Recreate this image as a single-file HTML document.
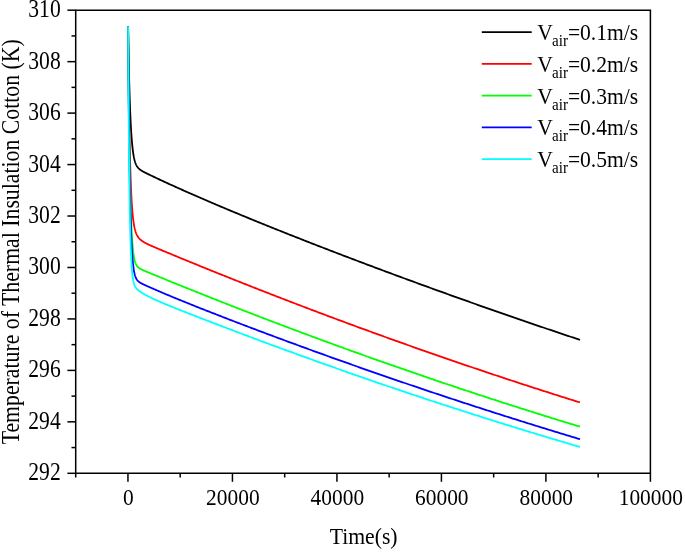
<!DOCTYPE html>
<html><head><meta charset="utf-8"><title>Temperature of Thermal Insulation Cotton</title>
<style>html,body{margin:0;padding:0;background:#fff}svg{display:block}text{font-family:"Liberation Serif","Times New Roman",serif;fill:#000}</style></head><body>
<svg width="685" height="552" viewBox="0 0 685 552">
<rect width="685" height="552" fill="#fff"/>
<path d="M128.10 26.50 L128.22 34.12 L128.35 41.32 L128.47 48.14 L128.60 54.58 L128.72 60.67 L128.85 66.43 L128.97 71.88 L129.10 77.04 L129.22 81.91 L129.35 86.52 L129.47 90.89 L129.60 95.01 L129.72 98.91 L129.85 102.61 L129.97 106.10 L130.10 109.41 L130.22 112.53 L130.35 115.49 L130.47 118.29 L130.60 120.94 L130.72 123.45 L130.85 125.83 L130.97 128.07 L131.10 130.20 L131.22 132.22 L131.35 134.12 L131.47 135.93 L131.60 137.64 L131.72 139.26 L131.85 140.80 L131.97 142.25 L132.10 143.63 L132.22 144.93 L132.35 146.17 L132.47 147.34 L132.60 148.45 L132.72 149.51 L132.85 150.51 L132.97 151.46 L133.10 152.36 L133.22 153.21 L133.35 154.02 L133.47 154.79 L133.60 155.52 L133.72 156.22 L133.85 156.88 L133.97 157.50 L134.10 158.10 L134.22 158.66 L134.35 159.20 L134.47 159.72 L134.60 160.20 L134.72 160.67 L134.85 161.11 L134.97 161.53 L135.10 161.93 L135.22 162.32 L135.35 162.68 L135.47 163.03 L135.60 163.36 L135.72 163.68 L135.85 163.99 L135.97 164.28 L136.10 164.55 L136.22 164.82 L136.35 165.08 L136.47 165.32 L136.60 165.56 L136.72 165.78 L136.85 166.00 L136.97 166.20 L137.10 166.40 L137.22 166.59 L137.35 166.78 L137.47 166.96 L137.60 167.13 L137.72 167.29 L137.85 167.45 L137.97 167.61 L138.10 167.76 L138.22 167.90 L138.35 168.04 L138.47 168.18 L138.60 168.31 L138.72 168.44 L138.85 168.56 L138.97 168.68 L139.10 168.80 L139.22 168.91 L139.35 169.02 L139.47 169.13 L139.60 169.24 L139.72 169.34 L139.85 169.44 L139.97 169.54 L140.10 169.64 L140.22 169.73 L140.35 169.83 L140.47 169.92 L140.60 170.01 L140.72 170.10 L140.85 170.18 L140.97 170.27 L141.10 170.35 L141.22 170.43 L141.35 170.51 L141.47 170.59 L141.60 170.67 L141.72 170.75 L141.85 170.83 L141.97 170.91 L142.10 170.98 L142.22 171.05 L142.35 171.13 L142.47 171.20 L142.60 171.27 L142.72 171.35 L142.85 171.42 L142.97 171.49 L143.10 171.56 L143.22 171.63 L143.35 171.70 L143.47 171.76 L143.60 171.83 L143.72 171.90 L143.85 171.97 L143.97 172.03 L144.10 172.10 L144.22 172.17 L144.35 172.23 L144.47 172.30 L144.60 172.36 L144.72 172.43 L144.85 172.49 L144.97 172.56 L145.10 172.62 L145.22 172.68 L145.35 172.75 L145.47 172.81 L145.60 172.87 L145.72 172.94 L145.85 173.00 L145.97 173.06 L146.10 173.13 L146.22 173.19 L146.35 173.25 L146.47 173.31 L146.60 173.37 L146.72 173.44 L146.85 173.50 L146.97 173.56 L147.10 173.62 L147.22 173.68 L147.35 173.74 L147.47 173.81 L147.60 173.87 L147.72 173.93 L147.85 173.99 L147.97 174.05 L148.10 174.11 L148.60 174.35 L150.04 175.05 L151.49 175.74 L152.93 176.43 L154.37 177.11 L155.81 177.79 L157.26 178.47 L158.70 179.14 L160.14 179.82 L161.59 180.49 L163.03 181.16 L164.47 181.82 L165.91 182.49 L167.36 183.15 L168.80 183.81 L170.24 184.47 L171.68 185.13 L173.13 185.78 L174.57 186.44 L176.01 187.09 L177.46 187.74 L178.90 188.39 L180.34 189.03 L181.78 189.68 L183.23 190.32 L184.67 190.96 L186.11 191.60 L187.56 192.24 L189.00 192.88 L190.44 193.52 L191.88 194.15 L193.33 194.78 L194.77 195.41 L196.21 196.04 L197.66 196.67 L199.10 197.30 L200.54 197.92 L201.98 198.55 L203.43 199.17 L204.87 199.79 L206.31 200.42 L207.76 201.03 L209.20 201.65 L210.64 202.27 L212.08 202.89 L213.53 203.50 L214.97 204.11 L216.41 204.73 L217.85 205.34 L219.30 205.95 L220.74 206.56 L222.18 207.17 L223.63 207.77 L225.07 208.38 L226.51 208.99 L227.95 209.59 L229.40 210.19 L230.84 210.80 L232.28 211.40 L233.73 212.00 L235.17 212.60 L236.61 213.20 L238.05 213.79 L239.50 214.39 L240.94 214.99 L242.38 215.58 L243.83 216.18 L245.27 216.77 L246.71 217.36 L248.15 217.95 L249.60 218.55 L251.04 219.14 L252.48 219.72 L253.93 220.31 L255.37 220.90 L256.81 221.49 L258.25 222.07 L259.70 222.66 L261.14 223.24 L262.58 223.83 L264.02 224.41 L265.47 224.99 L266.91 225.58 L268.35 226.16 L269.80 226.74 L271.24 227.32 L272.68 227.90 L274.12 228.48 L275.57 229.05 L277.01 229.63 L278.45 230.21 L279.90 230.78 L281.34 231.36 L282.78 231.93 L284.22 232.51 L285.67 233.08 L287.11 233.65 L288.55 234.22 L290.00 234.79 L291.44 235.37 L292.88 235.94 L294.32 236.51 L295.77 237.07 L297.21 237.64 L298.65 238.21 L300.09 238.78 L301.54 239.34 L302.98 239.91 L304.42 240.47 L305.87 241.04 L307.31 241.60 L308.75 242.17 L310.19 242.73 L311.64 243.29 L313.08 243.86 L314.52 244.42 L315.97 244.98 L317.41 245.54 L318.85 246.10 L320.29 246.66 L321.74 247.22 L323.18 247.77 L324.62 248.33 L326.07 248.89 L327.51 249.45 L328.95 250.00 L330.39 250.56 L331.84 251.11 L333.28 251.67 L334.72 252.22 L336.17 252.77 L337.61 253.33 L339.05 253.88 L340.49 254.43 L341.94 254.98 L343.38 255.54 L344.82 256.09 L346.26 256.64 L347.71 257.19 L349.15 257.73 L350.59 258.28 L352.04 258.83 L353.48 259.38 L354.92 259.93 L356.36 260.47 L357.81 261.02 L359.25 261.56 L360.69 262.11 L362.14 262.65 L363.58 263.20 L365.02 263.74 L366.46 264.29 L367.91 264.83 L369.35 265.37 L370.79 265.91 L372.24 266.45 L373.68 267.00 L375.12 267.54 L376.56 268.08 L378.01 268.62 L379.45 269.15 L380.89 269.69 L382.34 270.23 L383.78 270.77 L385.22 271.31 L386.66 271.84 L388.11 272.38 L389.55 272.92 L390.99 273.45 L392.43 273.99 L393.88 274.52 L395.32 275.05 L396.76 275.59 L398.21 276.12 L399.65 276.65 L401.09 277.19 L402.53 277.72 L403.98 278.25 L405.42 278.78 L406.86 279.31 L408.31 279.84 L409.75 280.37 L411.19 280.90 L412.63 281.43 L414.08 281.96 L415.52 282.49 L416.96 283.01 L418.41 283.54 L419.85 284.07 L421.29 284.59 L422.73 285.12 L424.18 285.64 L425.62 286.17 L427.06 286.69 L428.51 287.22 L429.95 287.74 L431.39 288.26 L432.83 288.79 L434.28 289.31 L435.72 289.83 L437.16 290.35 L438.60 290.87 L440.05 291.39 L441.49 291.91 L442.93 292.43 L444.38 292.95 L445.82 293.47 L447.26 293.99 L448.70 294.51 L450.15 295.03 L451.59 295.54 L453.03 296.06 L454.48 296.58 L455.92 297.09 L457.36 297.61 L458.80 298.12 L460.25 298.64 L461.69 299.15 L463.13 299.66 L464.58 300.18 L466.02 300.69 L467.46 301.20 L468.90 301.72 L470.35 302.23 L471.79 302.74 L473.23 303.25 L474.67 303.76 L476.12 304.27 L477.56 304.78 L479.00 305.29 L480.45 305.80 L481.89 306.30 L483.33 306.81 L484.77 307.32 L486.22 307.83 L487.66 308.33 L489.10 308.84 L490.55 309.34 L491.99 309.85 L493.43 310.35 L494.87 310.86 L496.32 311.36 L497.76 311.87 L499.20 312.37 L500.65 312.87 L502.09 313.37 L503.53 313.88 L504.97 314.38 L506.42 314.88 L507.86 315.38 L509.30 315.88 L510.75 316.38 L512.19 316.88 L513.63 317.38 L515.07 317.88 L516.52 318.37 L517.96 318.87 L519.40 319.37 L520.84 319.87 L522.29 320.36 L523.73 320.86 L525.17 321.35 L526.62 321.85 L528.06 322.34 L529.50 322.84 L530.94 323.33 L532.39 323.83 L533.83 324.32 L535.27 324.81 L536.72 325.30 L538.16 325.80 L539.60 326.29 L541.04 326.78 L542.49 327.27 L543.93 327.76 L545.37 328.25 L546.82 328.74 L548.26 329.23 L549.70 329.71 L551.14 330.20 L552.59 330.69 L554.03 331.18 L555.47 331.66 L556.92 332.15 L558.36 332.64 L559.80 333.12 L561.24 333.61 L562.69 334.09 L564.13 334.58 L565.57 335.06 L567.01 335.54 L568.46 336.03 L569.90 336.51 L571.34 336.99 L572.79 337.47 L574.23 337.96 L575.67 338.44 L577.11 338.92 L578.56 339.40 L580.00 339.88" fill="none" stroke="#000" stroke-width="1.8" stroke-linejoin="round"/>
<path d="M128.10 26.50 L128.22 39.84 L128.35 52.30 L128.47 63.92 L128.60 74.78 L128.72 84.92 L128.85 94.39 L128.97 103.24 L129.10 111.51 L129.22 119.24 L129.35 126.47 L129.47 133.22 L129.60 139.54 L129.72 145.45 L129.85 150.97 L129.97 156.15 L130.10 160.99 L130.22 165.53 L130.35 169.77 L130.47 173.75 L130.60 177.48 L130.72 180.97 L130.85 184.25 L130.97 187.32 L131.10 190.20 L131.22 192.91 L131.35 195.45 L131.47 197.84 L131.60 200.08 L131.72 202.18 L131.85 204.16 L131.97 206.03 L132.10 207.78 L132.22 209.43 L132.35 210.98 L132.47 212.45 L132.60 213.83 L132.72 215.13 L132.85 216.36 L132.97 217.52 L133.10 218.61 L133.22 219.64 L133.35 220.62 L133.47 221.55 L133.60 222.42 L133.72 223.25 L133.85 224.04 L133.97 224.78 L134.10 225.49 L134.22 226.16 L134.35 226.79 L134.47 227.40 L134.60 227.97 L134.72 228.52 L134.85 229.04 L134.97 229.54 L135.10 230.01 L135.22 230.46 L135.35 230.89 L135.47 231.30 L135.60 231.70 L135.72 232.07 L135.85 232.43 L135.97 232.78 L136.10 233.11 L136.22 233.43 L136.35 233.73 L136.47 234.02 L136.60 234.30 L136.72 234.57 L136.85 234.83 L136.97 235.08 L137.10 235.32 L137.22 235.56 L137.35 235.78 L137.47 236.00 L137.60 236.21 L137.72 236.41 L137.85 236.61 L137.97 236.80 L138.10 236.98 L138.22 237.16 L138.35 237.33 L138.47 237.50 L138.60 237.66 L138.72 237.82 L138.85 237.97 L138.97 238.12 L139.10 238.27 L139.22 238.41 L139.35 238.55 L139.47 238.69 L139.60 238.82 L139.72 238.95 L139.85 239.07 L139.97 239.20 L140.10 239.32 L140.22 239.43 L140.35 239.55 L140.47 239.66 L140.60 239.77 L140.72 239.88 L140.85 239.99 L140.97 240.09 L141.10 240.19 L141.22 240.30 L141.35 240.39 L141.47 240.49 L141.60 240.59 L141.72 240.68 L141.85 240.77 L141.97 240.87 L142.10 240.96 L142.22 241.04 L142.35 241.13 L142.47 241.22 L142.60 241.30 L142.72 241.39 L142.85 241.47 L142.97 241.55 L143.10 241.63 L143.22 241.71 L143.35 241.79 L143.47 241.87 L143.60 241.94 L143.72 242.02 L143.85 242.10 L143.97 242.17 L144.10 242.24 L144.22 242.32 L144.35 242.39 L144.47 242.46 L144.60 242.53 L144.72 242.60 L144.85 242.67 L144.97 242.74 L145.10 242.81 L145.22 242.88 L145.35 242.95 L145.47 243.02 L145.60 243.08 L145.72 243.15 L145.85 243.22 L145.97 243.28 L146.10 243.35 L146.22 243.41 L146.35 243.47 L146.47 243.54 L146.60 243.60 L146.72 243.66 L146.85 243.73 L146.97 243.79 L147.10 243.85 L147.22 243.91 L147.35 243.98 L147.47 244.04 L147.60 244.10 L147.72 244.16 L147.85 244.22 L147.97 244.28 L148.10 244.34 L148.60 244.58 L150.04 245.24 L151.49 245.89 L152.93 246.52 L154.37 247.15 L155.81 247.76 L157.26 248.38 L158.70 248.98 L160.14 249.59 L161.59 250.19 L163.03 250.80 L164.47 251.40 L165.91 252.00 L167.36 252.60 L168.80 253.19 L170.24 253.79 L171.68 254.39 L173.13 254.98 L174.57 255.58 L176.01 256.18 L177.46 256.77 L178.90 257.36 L180.34 257.96 L181.78 258.55 L183.23 259.14 L184.67 259.74 L186.11 260.33 L187.56 260.92 L189.00 261.51 L190.44 262.10 L191.88 262.69 L193.33 263.28 L194.77 263.87 L196.21 264.45 L197.66 265.04 L199.10 265.63 L200.54 266.21 L201.98 266.80 L203.43 267.39 L204.87 267.97 L206.31 268.55 L207.76 269.14 L209.20 269.72 L210.64 270.30 L212.08 270.89 L213.53 271.47 L214.97 272.05 L216.41 272.63 L217.85 273.21 L219.30 273.79 L220.74 274.37 L222.18 274.95 L223.63 275.53 L225.07 276.10 L226.51 276.68 L227.95 277.26 L229.40 277.83 L230.84 278.41 L232.28 278.98 L233.73 279.56 L235.17 280.13 L236.61 280.71 L238.05 281.28 L239.50 281.85 L240.94 282.42 L242.38 282.99 L243.83 283.56 L245.27 284.13 L246.71 284.70 L248.15 285.27 L249.60 285.84 L251.04 286.41 L252.48 286.98 L253.93 287.55 L255.37 288.11 L256.81 288.68 L258.25 289.24 L259.70 289.81 L261.14 290.37 L262.58 290.94 L264.02 291.50 L265.47 292.07 L266.91 292.63 L268.35 293.19 L269.80 293.75 L271.24 294.31 L272.68 294.87 L274.12 295.43 L275.57 295.99 L277.01 296.55 L278.45 297.11 L279.90 297.67 L281.34 298.22 L282.78 298.78 L284.22 299.34 L285.67 299.89 L287.11 300.45 L288.55 301.00 L290.00 301.56 L291.44 302.11 L292.88 302.67 L294.32 303.22 L295.77 303.77 L297.21 304.32 L298.65 304.87 L300.09 305.42 L301.54 305.97 L302.98 306.52 L304.42 307.07 L305.87 307.62 L307.31 308.17 L308.75 308.72 L310.19 309.26 L311.64 309.81 L313.08 310.36 L314.52 310.90 L315.97 311.45 L317.41 311.99 L318.85 312.54 L320.29 313.08 L321.74 313.62 L323.18 314.16 L324.62 314.71 L326.07 315.25 L327.51 315.79 L328.95 316.33 L330.39 316.87 L331.84 317.41 L333.28 317.95 L334.72 318.48 L336.17 319.02 L337.61 319.56 L339.05 320.10 L340.49 320.63 L341.94 321.17 L343.38 321.70 L344.82 322.24 L346.26 322.77 L347.71 323.31 L349.15 323.84 L350.59 324.37 L352.04 324.90 L353.48 325.43 L354.92 325.97 L356.36 326.50 L357.81 327.03 L359.25 327.56 L360.69 328.08 L362.14 328.61 L363.58 329.14 L365.02 329.67 L366.46 330.19 L367.91 330.72 L369.35 331.25 L370.79 331.77 L372.24 332.30 L373.68 332.82 L375.12 333.34 L376.56 333.87 L378.01 334.39 L379.45 334.91 L380.89 335.43 L382.34 335.96 L383.78 336.48 L385.22 337.00 L386.66 337.52 L388.11 338.04 L389.55 338.55 L390.99 339.07 L392.43 339.59 L393.88 340.11 L395.32 340.62 L396.76 341.14 L398.21 341.65 L399.65 342.17 L401.09 342.68 L402.53 343.20 L403.98 343.71 L405.42 344.22 L406.86 344.74 L408.31 345.25 L409.75 345.76 L411.19 346.27 L412.63 346.78 L414.08 347.29 L415.52 347.80 L416.96 348.31 L418.41 348.82 L419.85 349.32 L421.29 349.83 L422.73 350.34 L424.18 350.84 L425.62 351.35 L427.06 351.86 L428.51 352.36 L429.95 352.86 L431.39 353.37 L432.83 353.87 L434.28 354.37 L435.72 354.88 L437.16 355.38 L438.60 355.88 L440.05 356.38 L441.49 356.88 L442.93 357.38 L444.38 357.88 L445.82 358.37 L447.26 358.87 L448.70 359.37 L450.15 359.87 L451.59 360.36 L453.03 360.86 L454.48 361.35 L455.92 361.85 L457.36 362.34 L458.80 362.84 L460.25 363.33 L461.69 363.82 L463.13 364.32 L464.58 364.81 L466.02 365.30 L467.46 365.79 L468.90 366.28 L470.35 366.77 L471.79 367.26 L473.23 367.75 L474.67 368.23 L476.12 368.72 L477.56 369.21 L479.00 369.70 L480.45 370.18 L481.89 370.67 L483.33 371.15 L484.77 371.64 L486.22 372.12 L487.66 372.60 L489.10 373.09 L490.55 373.57 L491.99 374.05 L493.43 374.53 L494.87 375.01 L496.32 375.49 L497.76 375.97 L499.20 376.45 L500.65 376.93 L502.09 377.41 L503.53 377.89 L504.97 378.36 L506.42 378.84 L507.86 379.32 L509.30 379.79 L510.75 380.27 L512.19 380.74 L513.63 381.22 L515.07 381.69 L516.52 382.16 L517.96 382.64 L519.40 383.11 L520.84 383.58 L522.29 384.05 L523.73 384.52 L525.17 384.99 L526.62 385.46 L528.06 385.93 L529.50 386.40 L530.94 386.86 L532.39 387.33 L533.83 387.80 L535.27 388.27 L536.72 388.73 L538.16 389.20 L539.60 389.66 L541.04 390.13 L542.49 390.59 L543.93 391.05 L545.37 391.51 L546.82 391.98 L548.26 392.44 L549.70 392.90 L551.14 393.36 L552.59 393.82 L554.03 394.28 L555.47 394.74 L556.92 395.20 L558.36 395.66 L559.80 396.11 L561.24 396.57 L562.69 397.03 L564.13 397.48 L565.57 397.94 L567.01 398.39 L568.46 398.85 L569.90 399.30 L571.34 399.75 L572.79 400.21 L574.23 400.66 L575.67 401.11 L577.11 401.56 L578.56 402.01 L580.00 402.46" fill="none" stroke="#f00" stroke-width="1.8" stroke-linejoin="round"/>
<path d="M128.10 26.50 L128.22 42.29 L128.35 57.03 L128.47 70.80 L128.60 83.66 L128.72 95.68 L128.85 106.90 L128.97 117.38 L129.10 127.17 L129.22 136.31 L129.35 144.86 L129.47 152.84 L129.60 160.29 L129.72 167.26 L129.85 173.77 L129.97 179.85 L130.10 185.53 L130.22 190.83 L130.35 195.79 L130.47 200.43 L130.60 204.76 L130.72 208.80 L130.85 212.59 L130.97 216.12 L131.10 219.43 L131.22 222.52 L131.35 225.41 L131.47 228.11 L131.60 230.63 L131.72 232.99 L131.85 235.20 L131.97 237.27 L132.10 239.20 L132.22 241.00 L132.35 242.70 L132.47 244.28 L132.60 245.76 L132.72 247.15 L132.85 248.44 L132.97 249.66 L133.10 250.80 L133.22 251.86 L133.35 252.86 L133.47 253.80 L133.60 254.68 L133.72 255.50 L133.85 256.27 L133.97 257.00 L134.10 257.68 L134.22 258.32 L134.35 258.92 L134.47 259.48 L134.60 260.01 L134.72 260.51 L134.85 260.97 L134.97 261.41 L135.10 261.83 L135.22 262.22 L135.35 262.59 L135.47 262.94 L135.60 263.26 L135.72 263.57 L135.85 263.87 L135.97 264.14 L136.10 264.40 L136.22 264.65 L136.35 264.89 L136.47 265.11 L136.60 265.32 L136.72 265.52 L136.85 265.71 L136.97 265.89 L137.10 266.07 L137.22 266.23 L137.35 266.39 L137.47 266.54 L137.60 266.68 L137.72 266.82 L137.85 266.95 L137.97 267.08 L138.10 267.20 L138.22 267.32 L138.35 267.43 L138.47 267.54 L138.60 267.65 L138.72 267.75 L138.85 267.85 L138.97 267.94 L139.10 268.03 L139.22 268.12 L139.35 268.21 L139.47 268.29 L139.60 268.38 L139.72 268.46 L139.85 268.54 L139.97 268.61 L140.10 268.69 L140.22 268.76 L140.35 268.83 L140.47 268.90 L140.60 268.97 L140.72 269.04 L140.85 269.11 L140.97 269.18 L141.10 269.24 L141.22 269.31 L141.35 269.37 L141.47 269.43 L141.60 269.49 L141.72 269.56 L141.85 269.62 L141.97 269.68 L142.10 269.74 L142.22 269.79 L142.35 269.85 L142.47 269.91 L142.60 269.97 L142.72 270.03 L142.85 270.08 L142.97 270.14 L143.10 270.20 L143.22 270.25 L143.35 270.31 L143.47 270.36 L143.60 270.42 L143.72 270.47 L143.85 270.53 L143.97 270.58 L144.10 270.64 L144.22 270.69 L144.35 270.74 L144.47 270.80 L144.60 270.85 L144.72 270.90 L144.85 270.96 L144.97 271.01 L145.10 271.06 L145.22 271.12 L145.35 271.17 L145.47 271.22 L145.60 271.28 L145.72 271.33 L145.85 271.38 L145.97 271.43 L146.10 271.49 L146.22 271.54 L146.35 271.59 L146.47 271.64 L146.60 271.69 L146.72 271.75 L146.85 271.80 L146.97 271.85 L147.10 271.90 L147.22 271.96 L147.35 272.01 L147.47 272.06 L147.60 272.11 L147.72 272.16 L147.85 272.21 L147.97 272.27 L148.10 272.32 L148.60 272.53 L150.04 273.12 L151.49 273.72 L152.93 274.31 L154.37 274.90 L155.81 275.49 L157.26 276.08 L158.70 276.68 L160.14 277.27 L161.59 277.86 L163.03 278.44 L164.47 279.03 L165.91 279.62 L167.36 280.21 L168.80 280.80 L170.24 281.38 L171.68 281.97 L173.13 282.55 L174.57 283.14 L176.01 283.72 L177.46 284.31 L178.90 284.89 L180.34 285.47 L181.78 286.06 L183.23 286.64 L184.67 287.22 L186.11 287.80 L187.56 288.38 L189.00 288.96 L190.44 289.54 L191.88 290.12 L193.33 290.70 L194.77 291.28 L196.21 291.85 L197.66 292.43 L199.10 293.01 L200.54 293.58 L201.98 294.16 L203.43 294.73 L204.87 295.30 L206.31 295.88 L207.76 296.45 L209.20 297.02 L210.64 297.60 L212.08 298.17 L213.53 298.74 L214.97 299.31 L216.41 299.88 L217.85 300.45 L219.30 301.02 L220.74 301.58 L222.18 302.15 L223.63 302.72 L225.07 303.28 L226.51 303.85 L227.95 304.42 L229.40 304.98 L230.84 305.55 L232.28 306.11 L233.73 306.67 L235.17 307.24 L236.61 307.80 L238.05 308.36 L239.50 308.92 L240.94 309.48 L242.38 310.04 L243.83 310.60 L245.27 311.16 L246.71 311.72 L248.15 312.28 L249.60 312.84 L251.04 313.39 L252.48 313.95 L253.93 314.51 L255.37 315.06 L256.81 315.62 L258.25 316.17 L259.70 316.73 L261.14 317.28 L262.58 317.83 L264.02 318.38 L265.47 318.94 L266.91 319.49 L268.35 320.04 L269.80 320.59 L271.24 321.14 L272.68 321.69 L274.12 322.24 L275.57 322.78 L277.01 323.33 L278.45 323.88 L279.90 324.43 L281.34 324.97 L282.78 325.52 L284.22 326.06 L285.67 326.61 L287.11 327.15 L288.55 327.69 L290.00 328.24 L291.44 328.78 L292.88 329.32 L294.32 329.86 L295.77 330.40 L297.21 330.94 L298.65 331.48 L300.09 332.02 L301.54 332.56 L302.98 333.10 L304.42 333.64 L305.87 334.17 L307.31 334.71 L308.75 335.25 L310.19 335.78 L311.64 336.32 L313.08 336.85 L314.52 337.39 L315.97 337.92 L317.41 338.45 L318.85 338.98 L320.29 339.52 L321.74 340.05 L323.18 340.58 L324.62 341.11 L326.07 341.64 L327.51 342.17 L328.95 342.70 L330.39 343.22 L331.84 343.75 L333.28 344.28 L334.72 344.81 L336.17 345.33 L337.61 345.86 L339.05 346.38 L340.49 346.91 L341.94 347.43 L343.38 347.95 L344.82 348.48 L346.26 349.00 L347.71 349.52 L349.15 350.04 L350.59 350.56 L352.04 351.08 L353.48 351.60 L354.92 352.12 L356.36 352.64 L357.81 353.16 L359.25 353.68 L360.69 354.19 L362.14 354.71 L363.58 355.23 L365.02 355.74 L366.46 356.26 L367.91 356.77 L369.35 357.28 L370.79 357.80 L372.24 358.31 L373.68 358.82 L375.12 359.33 L376.56 359.85 L378.01 360.36 L379.45 360.87 L380.89 361.38 L382.34 361.89 L383.78 362.39 L385.22 362.90 L386.66 363.41 L388.11 363.92 L389.55 364.42 L390.99 364.93 L392.43 365.44 L393.88 365.94 L395.32 366.44 L396.76 366.95 L398.21 367.45 L399.65 367.95 L401.09 368.46 L402.53 368.96 L403.98 369.46 L405.42 369.96 L406.86 370.46 L408.31 370.96 L409.75 371.46 L411.19 371.96 L412.63 372.46 L414.08 372.95 L415.52 373.45 L416.96 373.95 L418.41 374.44 L419.85 374.94 L421.29 375.43 L422.73 375.93 L424.18 376.42 L425.62 376.92 L427.06 377.41 L428.51 377.90 L429.95 378.39 L431.39 378.88 L432.83 379.37 L434.28 379.86 L435.72 380.35 L437.16 380.84 L438.60 381.33 L440.05 381.82 L441.49 382.31 L442.93 382.79 L444.38 383.28 L445.82 383.77 L447.26 384.25 L448.70 384.74 L450.15 385.22 L451.59 385.71 L453.03 386.19 L454.48 386.67 L455.92 387.15 L457.36 387.64 L458.80 388.12 L460.25 388.60 L461.69 389.08 L463.13 389.56 L464.58 390.04 L466.02 390.52 L467.46 390.99 L468.90 391.47 L470.35 391.95 L471.79 392.42 L473.23 392.90 L474.67 393.38 L476.12 393.85 L477.56 394.33 L479.00 394.80 L480.45 395.27 L481.89 395.75 L483.33 396.22 L484.77 396.69 L486.22 397.16 L487.66 397.63 L489.10 398.10 L490.55 398.57 L491.99 399.04 L493.43 399.51 L494.87 399.98 L496.32 400.44 L497.76 400.91 L499.20 401.38 L500.65 401.84 L502.09 402.31 L503.53 402.77 L504.97 403.24 L506.42 403.70 L507.86 404.17 L509.30 404.63 L510.75 405.09 L512.19 405.55 L513.63 406.01 L515.07 406.47 L516.52 406.93 L517.96 407.39 L519.40 407.85 L520.84 408.31 L522.29 408.77 L523.73 409.23 L525.17 409.68 L526.62 410.14 L528.06 410.60 L529.50 411.05 L530.94 411.51 L532.39 411.96 L533.83 412.41 L535.27 412.87 L536.72 413.32 L538.16 413.77 L539.60 414.22 L541.04 414.68 L542.49 415.13 L543.93 415.58 L545.37 416.03 L546.82 416.48 L548.26 416.92 L549.70 417.37 L551.14 417.82 L552.59 418.27 L554.03 418.71 L555.47 419.16 L556.92 419.60 L558.36 420.05 L559.80 420.49 L561.24 420.94 L562.69 421.38 L564.13 421.82 L565.57 422.27 L567.01 422.71 L568.46 423.15 L569.90 423.59 L571.34 424.03 L572.79 424.47 L574.23 424.91 L575.67 425.35 L577.11 425.78 L578.56 426.22 L580.00 426.66" fill="none" stroke="#0f0" stroke-width="1.8" stroke-linejoin="round"/>
<path d="M128.10 26.50 L128.22 43.52 L128.35 59.40 L128.47 74.20 L128.60 88.01 L128.72 100.89 L128.85 112.90 L128.97 124.10 L129.10 134.55 L129.22 144.30 L129.35 153.39 L129.47 161.87 L129.60 169.78 L129.72 177.16 L129.85 184.05 L129.97 190.47 L130.10 196.46 L130.22 202.06 L130.35 207.27 L130.47 212.14 L130.60 216.69 L130.72 220.93 L130.85 224.88 L130.97 228.58 L131.10 232.03 L131.22 235.25 L131.35 238.25 L131.47 241.06 L131.60 243.68 L131.72 246.13 L131.85 248.41 L131.97 250.55 L132.10 252.54 L132.22 254.40 L132.35 256.15 L132.47 257.77 L132.60 259.30 L132.72 260.72 L132.85 262.05 L132.97 263.29 L133.10 264.46 L133.22 265.55 L133.35 266.57 L133.47 267.52 L133.60 268.42 L133.72 269.25 L133.85 270.04 L133.97 270.77 L134.10 271.46 L134.22 272.11 L134.35 272.72 L134.47 273.29 L134.60 273.82 L134.72 274.33 L134.85 274.80 L134.97 275.25 L135.10 275.66 L135.22 276.06 L135.35 276.43 L135.47 276.78 L135.60 277.11 L135.72 277.42 L135.85 277.72 L135.97 278.00 L136.10 278.26 L136.22 278.51 L136.35 278.75 L136.47 278.97 L136.60 279.19 L136.72 279.39 L136.85 279.58 L136.97 279.77 L137.10 279.94 L137.22 280.11 L137.35 280.27 L137.47 280.42 L137.60 280.57 L137.72 280.71 L137.85 280.85 L137.97 280.98 L138.10 281.10 L138.22 281.22 L138.35 281.34 L138.47 281.45 L138.60 281.56 L138.72 281.66 L138.85 281.76 L138.97 281.86 L139.10 281.96 L139.22 282.05 L139.35 282.14 L139.47 282.23 L139.60 282.32 L139.72 282.40 L139.85 282.48 L139.97 282.56 L140.10 282.64 L140.22 282.72 L140.35 282.80 L140.47 282.87 L140.60 282.94 L140.72 283.02 L140.85 283.09 L140.97 283.16 L141.10 283.23 L141.22 283.30 L141.35 283.36 L141.47 283.43 L141.60 283.50 L141.72 283.56 L141.85 283.63 L141.97 283.69 L142.10 283.75 L142.22 283.82 L142.35 283.88 L142.47 283.94 L142.60 284.00 L142.72 284.07 L142.85 284.13 L142.97 284.19 L143.10 284.25 L143.22 284.31 L143.35 284.37 L143.47 284.43 L143.60 284.49 L143.72 284.55 L143.85 284.61 L143.97 284.66 L144.10 284.72 L144.22 284.78 L144.35 284.84 L144.47 284.90 L144.60 284.95 L144.72 285.01 L144.85 285.07 L144.97 285.13 L145.10 285.18 L145.22 285.24 L145.35 285.30 L145.47 285.36 L145.60 285.41 L145.72 285.47 L145.85 285.53 L145.97 285.58 L146.10 285.64 L146.22 285.70 L146.35 285.75 L146.47 285.81 L146.60 285.86 L146.72 285.92 L146.85 285.98 L146.97 286.03 L147.10 286.09 L147.22 286.14 L147.35 286.20 L147.47 286.26 L147.60 286.31 L147.72 286.37 L147.85 286.42 L147.97 286.48 L148.10 286.53 L148.60 286.76 L150.04 287.39 L151.49 288.03 L152.93 288.66 L154.37 289.28 L155.81 289.91 L157.26 290.53 L158.70 291.15 L160.14 291.76 L161.59 292.38 L163.03 292.99 L164.47 293.60 L165.91 294.21 L167.36 294.81 L168.80 295.41 L170.24 296.02 L171.68 296.61 L173.13 297.21 L174.57 297.81 L176.01 298.40 L177.46 298.99 L178.90 299.59 L180.34 300.18 L181.78 300.76 L183.23 301.35 L184.67 301.94 L186.11 302.52 L187.56 303.10 L189.00 303.68 L190.44 304.26 L191.88 304.84 L193.33 305.42 L194.77 306.00 L196.21 306.57 L197.66 307.15 L199.10 307.72 L200.54 308.29 L201.98 308.86 L203.43 309.43 L204.87 310.00 L206.31 310.57 L207.76 311.14 L209.20 311.71 L210.64 312.27 L212.08 312.84 L213.53 313.40 L214.97 313.96 L216.41 314.53 L217.85 315.09 L219.30 315.65 L220.74 316.21 L222.18 316.77 L223.63 317.33 L225.07 317.89 L226.51 318.44 L227.95 319.00 L229.40 319.55 L230.84 320.11 L232.28 320.66 L233.73 321.22 L235.17 321.77 L236.61 322.32 L238.05 322.88 L239.50 323.43 L240.94 323.98 L242.38 324.53 L243.83 325.08 L245.27 325.63 L246.71 326.17 L248.15 326.72 L249.60 327.27 L251.04 327.81 L252.48 328.36 L253.93 328.90 L255.37 329.45 L256.81 329.99 L258.25 330.54 L259.70 331.08 L261.14 331.62 L262.58 332.16 L264.02 332.70 L265.47 333.25 L266.91 333.79 L268.35 334.32 L269.80 334.86 L271.24 335.40 L272.68 335.94 L274.12 336.48 L275.57 337.01 L277.01 337.55 L278.45 338.09 L279.90 338.62 L281.34 339.16 L282.78 339.69 L284.22 340.22 L285.67 340.76 L287.11 341.29 L288.55 341.82 L290.00 342.35 L291.44 342.88 L292.88 343.41 L294.32 343.94 L295.77 344.47 L297.21 345.00 L298.65 345.53 L300.09 346.06 L301.54 346.59 L302.98 347.11 L304.42 347.64 L305.87 348.17 L307.31 348.69 L308.75 349.22 L310.19 349.74 L311.64 350.27 L313.08 350.79 L314.52 351.31 L315.97 351.83 L317.41 352.36 L318.85 352.88 L320.29 353.40 L321.74 353.92 L323.18 354.44 L324.62 354.96 L326.07 355.48 L327.51 356.00 L328.95 356.51 L330.39 357.03 L331.84 357.55 L333.28 358.06 L334.72 358.58 L336.17 359.10 L337.61 359.61 L339.05 360.13 L340.49 360.64 L341.94 361.15 L343.38 361.67 L344.82 362.18 L346.26 362.69 L347.71 363.20 L349.15 363.71 L350.59 364.22 L352.04 364.73 L353.48 365.24 L354.92 365.75 L356.36 366.26 L357.81 366.77 L359.25 367.28 L360.69 367.78 L362.14 368.29 L363.58 368.80 L365.02 369.30 L366.46 369.81 L367.91 370.31 L369.35 370.82 L370.79 371.32 L372.24 371.82 L373.68 372.33 L375.12 372.83 L376.56 373.33 L378.01 373.83 L379.45 374.33 L380.89 374.83 L382.34 375.33 L383.78 375.83 L385.22 376.33 L386.66 376.83 L388.11 377.33 L389.55 377.83 L390.99 378.32 L392.43 378.82 L393.88 379.31 L395.32 379.81 L396.76 380.30 L398.21 380.80 L399.65 381.29 L401.09 381.79 L402.53 382.28 L403.98 382.77 L405.42 383.26 L406.86 383.76 L408.31 384.25 L409.75 384.74 L411.19 385.23 L412.63 385.72 L414.08 386.21 L415.52 386.69 L416.96 387.18 L418.41 387.67 L419.85 388.16 L421.29 388.64 L422.73 389.13 L424.18 389.62 L425.62 390.10 L427.06 390.59 L428.51 391.07 L429.95 391.55 L431.39 392.04 L432.83 392.52 L434.28 393.00 L435.72 393.48 L437.16 393.97 L438.60 394.45 L440.05 394.93 L441.49 395.41 L442.93 395.89 L444.38 396.36 L445.82 396.84 L447.26 397.32 L448.70 397.80 L450.15 398.27 L451.59 398.75 L453.03 399.23 L454.48 399.70 L455.92 400.18 L457.36 400.65 L458.80 401.13 L460.25 401.60 L461.69 402.07 L463.13 402.55 L464.58 403.02 L466.02 403.49 L467.46 403.96 L468.90 404.43 L470.35 404.90 L471.79 405.37 L473.23 405.84 L474.67 406.31 L476.12 406.78 L477.56 407.24 L479.00 407.71 L480.45 408.18 L481.89 408.64 L483.33 409.11 L484.77 409.57 L486.22 410.04 L487.66 410.50 L489.10 410.97 L490.55 411.43 L491.99 411.89 L493.43 412.36 L494.87 412.82 L496.32 413.28 L497.76 413.74 L499.20 414.20 L500.65 414.66 L502.09 415.12 L503.53 415.58 L504.97 416.04 L506.42 416.49 L507.86 416.95 L509.30 417.41 L510.75 417.87 L512.19 418.32 L513.63 418.78 L515.07 419.23 L516.52 419.69 L517.96 420.14 L519.40 420.59 L520.84 421.05 L522.29 421.50 L523.73 421.95 L525.17 422.40 L526.62 422.85 L528.06 423.30 L529.50 423.76 L530.94 424.20 L532.39 424.65 L533.83 425.10 L535.27 425.55 L536.72 426.00 L538.16 426.45 L539.60 426.89 L541.04 427.34 L542.49 427.78 L543.93 428.23 L545.37 428.67 L546.82 429.12 L548.26 429.56 L549.70 430.01 L551.14 430.45 L552.59 430.89 L554.03 431.33 L555.47 431.77 L556.92 432.21 L558.36 432.66 L559.80 433.10 L561.24 433.53 L562.69 433.97 L564.13 434.41 L565.57 434.85 L567.01 435.29 L568.46 435.72 L569.90 436.16 L571.34 436.60 L572.79 437.03 L574.23 437.47 L575.67 437.90 L577.11 438.34 L578.56 438.77 L580.00 439.20" fill="none" stroke="#00f" stroke-width="1.8" stroke-linejoin="round"/>
<path d="M128.10 26.50 L128.22 49.07 L128.35 69.66 L128.47 88.45 L128.60 105.59 L128.72 121.24 L128.85 135.51 L128.97 148.54 L129.10 160.44 L129.22 171.29 L129.35 181.20 L129.47 190.25 L129.60 198.51 L129.72 206.06 L129.85 212.95 L129.97 219.24 L130.10 224.99 L130.22 230.25 L130.35 235.05 L130.47 239.44 L130.60 243.46 L130.72 247.13 L130.85 250.49 L130.97 253.56 L131.10 256.38 L131.22 258.95 L131.35 261.31 L131.47 263.47 L131.60 265.46 L131.72 267.27 L131.85 268.94 L131.97 270.47 L132.10 271.88 L132.22 273.17 L132.35 274.36 L132.47 275.45 L132.60 276.46 L132.72 277.39 L132.85 278.25 L132.97 279.04 L133.10 279.77 L133.22 280.44 L133.35 281.07 L133.47 281.65 L133.60 282.19 L133.72 282.69 L133.85 283.16 L133.97 283.59 L134.10 283.99 L134.22 284.37 L134.35 284.73 L134.47 285.06 L134.60 285.37 L134.72 285.66 L134.85 285.94 L134.97 286.20 L135.10 286.44 L135.22 286.68 L135.35 286.90 L135.47 287.11 L135.60 287.31 L135.72 287.50 L135.85 287.68 L135.97 287.86 L136.10 288.03 L136.22 288.19 L136.35 288.34 L136.47 288.49 L136.60 288.64 L136.72 288.78 L136.85 288.91 L136.97 289.04 L137.10 289.17 L137.22 289.30 L137.35 289.42 L137.47 289.54 L137.60 289.65 L137.72 289.76 L137.85 289.88 L137.97 289.98 L138.10 290.09 L138.22 290.20 L138.35 290.30 L138.47 290.40 L138.60 290.50 L138.72 290.60 L138.85 290.70 L138.97 290.79 L139.10 290.89 L139.22 290.98 L139.35 291.07 L139.47 291.16 L139.60 291.26 L139.72 291.35 L139.85 291.43 L139.97 291.52 L140.10 291.61 L140.22 291.70 L140.35 291.78 L140.47 291.87 L140.60 291.95 L140.72 292.03 L140.85 292.12 L140.97 292.20 L141.10 292.28 L141.22 292.36 L141.35 292.45 L141.47 292.53 L141.60 292.61 L141.72 292.69 L141.85 292.76 L141.97 292.84 L142.10 292.92 L142.22 293.00 L142.35 293.08 L142.47 293.15 L142.60 293.23 L142.72 293.31 L142.85 293.38 L142.97 293.46 L143.10 293.53 L143.22 293.61 L143.35 293.68 L143.47 293.76 L143.60 293.83 L143.72 293.90 L143.85 293.98 L143.97 294.05 L144.10 294.12 L144.22 294.19 L144.35 294.27 L144.47 294.34 L144.60 294.41 L144.72 294.48 L144.85 294.55 L144.97 294.62 L145.10 294.69 L145.22 294.76 L145.35 294.83 L145.47 294.90 L145.60 294.97 L145.72 295.04 L145.85 295.11 L145.97 295.17 L146.10 295.24 L146.22 295.31 L146.35 295.38 L146.47 295.45 L146.60 295.51 L146.72 295.58 L146.85 295.65 L146.97 295.71 L147.10 295.78 L147.22 295.84 L147.35 295.91 L147.47 295.98 L147.60 296.04 L147.72 296.11 L147.85 296.17 L147.97 296.24 L148.10 296.30 L148.60 296.56 L150.04 297.28 L151.49 297.99 L152.93 298.67 L154.37 299.34 L155.81 300.00 L157.26 300.64 L158.70 301.27 L160.14 301.90 L161.59 302.52 L163.03 303.13 L164.47 303.73 L165.91 304.33 L167.36 304.92 L168.80 305.52 L170.24 306.10 L171.68 306.69 L173.13 307.27 L174.57 307.85 L176.01 308.43 L177.46 309.00 L178.90 309.58 L180.34 310.15 L181.78 310.72 L183.23 311.29 L184.67 311.86 L186.11 312.42 L187.56 312.99 L189.00 313.55 L190.44 314.12 L191.88 314.68 L193.33 315.25 L194.77 315.81 L196.21 316.37 L197.66 316.93 L199.10 317.49 L200.54 318.05 L201.98 318.61 L203.43 319.17 L204.87 319.72 L206.31 320.28 L207.76 320.84 L209.20 321.39 L210.64 321.95 L212.08 322.50 L213.53 323.06 L214.97 323.61 L216.41 324.16 L217.85 324.71 L219.30 325.27 L220.74 325.82 L222.18 326.37 L223.63 326.92 L225.07 327.47 L226.51 328.02 L227.95 328.57 L229.40 329.12 L230.84 329.66 L232.28 330.21 L233.73 330.76 L235.17 331.30 L236.61 331.85 L238.05 332.39 L239.50 332.94 L240.94 333.48 L242.38 334.03 L243.83 334.57 L245.27 335.11 L246.71 335.65 L248.15 336.19 L249.60 336.74 L251.04 337.28 L252.48 337.82 L253.93 338.36 L255.37 338.89 L256.81 339.43 L258.25 339.97 L259.70 340.51 L261.14 341.04 L262.58 341.58 L264.02 342.12 L265.47 342.65 L266.91 343.19 L268.35 343.72 L269.80 344.25 L271.24 344.79 L272.68 345.32 L274.12 345.85 L275.57 346.38 L277.01 346.91 L278.45 347.45 L279.90 347.98 L281.34 348.50 L282.78 349.03 L284.22 349.56 L285.67 350.09 L287.11 350.62 L288.55 351.14 L290.00 351.67 L291.44 352.20 L292.88 352.72 L294.32 353.25 L295.77 353.77 L297.21 354.30 L298.65 354.82 L300.09 355.34 L301.54 355.86 L302.98 356.39 L304.42 356.91 L305.87 357.43 L307.31 357.95 L308.75 358.47 L310.19 358.99 L311.64 359.51 L313.08 360.02 L314.52 360.54 L315.97 361.06 L317.41 361.58 L318.85 362.09 L320.29 362.61 L321.74 363.12 L323.18 363.64 L324.62 364.15 L326.07 364.66 L327.51 365.18 L328.95 365.69 L330.39 366.20 L331.84 366.71 L333.28 367.22 L334.72 367.73 L336.17 368.24 L337.61 368.75 L339.05 369.26 L340.49 369.77 L341.94 370.28 L343.38 370.79 L344.82 371.29 L346.26 371.80 L347.71 372.30 L349.15 372.81 L350.59 373.31 L352.04 373.82 L353.48 374.32 L354.92 374.82 L356.36 375.33 L357.81 375.83 L359.25 376.33 L360.69 376.83 L362.14 377.33 L363.58 377.83 L365.02 378.33 L366.46 378.83 L367.91 379.33 L369.35 379.83 L370.79 380.33 L372.24 380.82 L373.68 381.32 L375.12 381.81 L376.56 382.31 L378.01 382.80 L379.45 383.30 L380.89 383.79 L382.34 384.29 L383.78 384.78 L385.22 385.27 L386.66 385.76 L388.11 386.25 L389.55 386.74 L390.99 387.24 L392.43 387.72 L393.88 388.21 L395.32 388.70 L396.76 389.19 L398.21 389.68 L399.65 390.17 L401.09 390.65 L402.53 391.14 L403.98 391.62 L405.42 392.11 L406.86 392.59 L408.31 393.08 L409.75 393.56 L411.19 394.04 L412.63 394.53 L414.08 395.01 L415.52 395.49 L416.96 395.97 L418.41 396.45 L419.85 396.93 L421.29 397.41 L422.73 397.89 L424.18 398.37 L425.62 398.84 L427.06 399.32 L428.51 399.80 L429.95 400.27 L431.39 400.75 L432.83 401.23 L434.28 401.70 L435.72 402.17 L437.16 402.65 L438.60 403.12 L440.05 403.59 L441.49 404.07 L442.93 404.54 L444.38 405.01 L445.82 405.48 L447.26 405.95 L448.70 406.42 L450.15 406.89 L451.59 407.36 L453.03 407.82 L454.48 408.29 L455.92 408.76 L457.36 409.22 L458.80 409.69 L460.25 410.16 L461.69 410.62 L463.13 411.08 L464.58 411.55 L466.02 412.01 L467.46 412.47 L468.90 412.94 L470.35 413.40 L471.79 413.86 L473.23 414.32 L474.67 414.78 L476.12 415.24 L477.56 415.70 L479.00 416.16 L480.45 416.62 L481.89 417.07 L483.33 417.53 L484.77 417.99 L486.22 418.44 L487.66 418.90 L489.10 419.35 L490.55 419.81 L491.99 420.26 L493.43 420.72 L494.87 421.17 L496.32 421.62 L497.76 422.07 L499.20 422.52 L500.65 422.97 L502.09 423.43 L503.53 423.87 L504.97 424.32 L506.42 424.77 L507.86 425.22 L509.30 425.67 L510.75 426.12 L512.19 426.56 L513.63 427.01 L515.07 427.45 L516.52 427.90 L517.96 428.34 L519.40 428.79 L520.84 429.23 L522.29 429.68 L523.73 430.12 L525.17 430.56 L526.62 431.00 L528.06 431.44 L529.50 431.88 L530.94 432.32 L532.39 432.76 L533.83 433.20 L535.27 433.64 L536.72 434.08 L538.16 434.51 L539.60 434.95 L541.04 435.39 L542.49 435.82 L543.93 436.26 L545.37 436.69 L546.82 437.13 L548.26 437.56 L549.70 438.00 L551.14 438.43 L552.59 438.86 L554.03 439.29 L555.47 439.72 L556.92 440.15 L558.36 440.58 L559.80 441.01 L561.24 441.44 L562.69 441.87 L564.13 442.30 L565.57 442.73 L567.01 443.15 L568.46 443.58 L569.90 444.01 L571.34 444.43 L572.79 444.86 L574.23 445.28 L575.67 445.71 L577.11 446.13 L578.56 446.55 L580.00 446.97" fill="none" stroke="#0ff" stroke-width="1.8" stroke-linejoin="round"/>
<g stroke="#000" stroke-width="1.5" fill="none">
<path d="M75.70 10.20 H650.40 V473.30 H75.70 Z"/>
<path d="M75.70 473.30 h-8.30"/>
<path d="M75.70 447.57 h-4.20"/>
<path d="M75.70 421.84 h-8.30"/>
<path d="M75.70 396.12 h-4.20"/>
<path d="M75.70 370.39 h-8.30"/>
<path d="M75.70 344.66 h-4.20"/>
<path d="M75.70 318.93 h-8.30"/>
<path d="M75.70 293.21 h-4.20"/>
<path d="M75.70 267.48 h-8.30"/>
<path d="M75.70 241.75 h-4.20"/>
<path d="M75.70 216.02 h-8.30"/>
<path d="M75.70 190.29 h-4.20"/>
<path d="M75.70 164.57 h-8.30"/>
<path d="M75.70 138.84 h-4.20"/>
<path d="M75.70 113.11 h-8.30"/>
<path d="M75.70 87.38 h-4.20"/>
<path d="M75.70 61.66 h-8.30"/>
<path d="M75.70 35.93 h-4.20"/>
<path d="M75.70 10.20 h-8.30"/>
<path d="M75.70 473.30 v4.20"/>
<path d="M127.95 473.30 v8.50"/>
<path d="M180.19 473.30 v4.20"/>
<path d="M232.44 473.30 v8.50"/>
<path d="M284.68 473.30 v4.20"/>
<path d="M336.93 473.30 v8.50"/>
<path d="M389.17 473.30 v4.20"/>
<path d="M441.42 473.30 v8.50"/>
<path d="M493.66 473.30 v4.20"/>
<path d="M545.91 473.30 v8.50"/>
<path d="M598.15 473.30 v4.20"/>
<path d="M650.40 473.30 v8.50"/>
</g>
<g font-size="21.6" text-anchor="end">
<text transform="translate(60.7 480.25) scale(1 1.12)">292</text>
<text transform="translate(60.7 428.79) scale(1 1.12)">294</text>
<text transform="translate(60.7 377.34) scale(1 1.12)">296</text>
<text transform="translate(60.7 325.88) scale(1 1.12)">298</text>
<text transform="translate(60.7 274.43) scale(1 1.12)">300</text>
<text transform="translate(60.7 222.97) scale(1 1.12)">302</text>
<text transform="translate(60.7 171.52) scale(1 1.12)">304</text>
<text transform="translate(60.7 120.06) scale(1 1.12)">306</text>
<text transform="translate(60.7 68.61) scale(1 1.12)">308</text>
<text transform="translate(60.7 17.15) scale(1 1.12)">310</text>
</g>
<g font-size="21.4" text-anchor="middle">
<text transform="translate(128.35 505.4) scale(1 1.05)">0</text>
<text transform="translate(232.84 505.4) scale(1 1.05)">20000</text>
<text transform="translate(337.33 505.4) scale(1 1.05)">40000</text>
<text transform="translate(441.82 505.4) scale(1 1.05)">60000</text>
<text transform="translate(546.31 505.4) scale(1 1.05)">80000</text>
<text transform="translate(650.80 505.4) scale(1 1.05)">100000</text>
</g>
<text transform="translate(363.6 543.9) scale(1 1.09)" font-size="21.7" text-anchor="middle">Time(s)</text>
<text transform="translate(18.8 241.8) rotate(-90) scale(1 1.12)" font-size="21.8" text-anchor="middle">Temperature of Thermal Insulation Cotton (K)</text>
<path d="M481.8 32.10 H531.7" stroke="#000" stroke-width="1.6" fill="none"/>
<text transform="translate(537.3 40.00) scale(1 1.05)" font-size="21.6">V<tspan font-size="15.1" dx="-0.8" dy="5.8">air</tspan><tspan dy="-5.8" dx="-0.1">=0.1m/s</tspan></text>
<path d="M481.8 63.85 H531.7" stroke="#f00" stroke-width="1.6" fill="none"/>
<text transform="translate(537.3 71.75) scale(1 1.05)" font-size="21.6">V<tspan font-size="15.1" dx="-0.8" dy="5.8">air</tspan><tspan dy="-5.8" dx="-0.1">=0.2m/s</tspan></text>
<path d="M481.8 95.60 H531.7" stroke="#0f0" stroke-width="1.6" fill="none"/>
<text transform="translate(537.3 103.50) scale(1 1.05)" font-size="21.6">V<tspan font-size="15.1" dx="-0.8" dy="5.8">air</tspan><tspan dy="-5.8" dx="-0.1">=0.3m/s</tspan></text>
<path d="M481.8 127.35 H531.7" stroke="#00f" stroke-width="1.6" fill="none"/>
<text transform="translate(537.3 135.25) scale(1 1.05)" font-size="21.6">V<tspan font-size="15.1" dx="-0.8" dy="5.8">air</tspan><tspan dy="-5.8" dx="-0.1">=0.4m/s</tspan></text>
<path d="M481.8 159.10 H531.7" stroke="#0ff" stroke-width="1.6" fill="none"/>
<text transform="translate(537.3 167.00) scale(1 1.05)" font-size="21.6">V<tspan font-size="15.1" dx="-0.8" dy="5.8">air</tspan><tspan dy="-5.8" dx="-0.1">=0.5m/s</tspan></text>
</svg></body></html>
